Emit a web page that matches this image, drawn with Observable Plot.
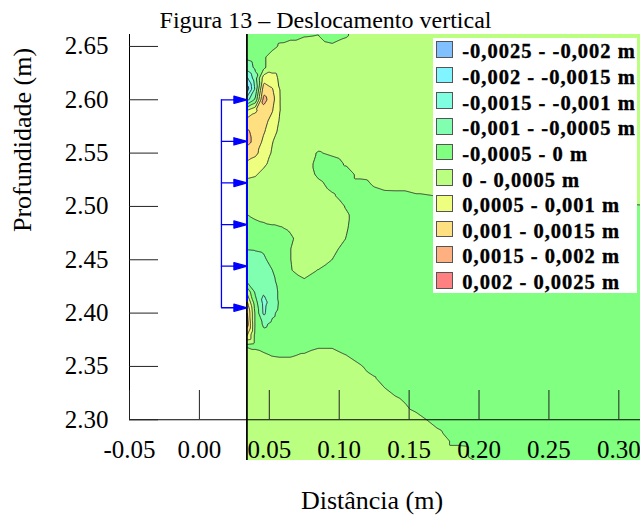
<!DOCTYPE html>
<html>
<head>
<meta charset="utf-8">
<script src="https://cdn.jsdelivr.net/npm/d3@7"></script>
<script src="https://cdn.jsdelivr.net/npm/@observablehq/plot@0.6"></script>
<style>
  html, body { margin: 0; padding: 0; background: #fff; }
  #chart { position: relative; width: 640px; height: 515px; }
  #legend {
    position: absolute; left: 432.7px; top: 37.7px; width: 204.3px; height: 255.3px;
    background: #fff; color: #000;
    font-family: "Liberation Serif", "Times New Roman", serif;
    font-weight: bold; font-size: 20.5px; letter-spacing: 1px;
    -webkit-text-stroke: 0.35px #000;
  }
  #legend .row { position: absolute; left: 3.3px; height: 17px; }
  #legend .sw {
    position: absolute; left: 0; top: 0; width: 16.7px; height: 16.7px;
    box-sizing: border-box; border: 1.3px solid #555;
  }
  #legend .lab { position: absolute; left: 26.3px; top: 0.3px; line-height: 1; white-space: nowrap; }
</style>
</head>
<body>
<div id="chart"></div>
<script>
// Mesh columns (distance, m) and rows (depth, m) of the displacement field
const gridX = [0.034, 0.040, 0.046, 0.052, 0.058, 0.065, 0.075, 0.085, 0.095, 0.105,
               0.115, 0.125, 0.140, 0.155, 0.170, 0.185, 0.200, 0.250, 0.330];
const gridY = [2.68, 2.67, 2.66, 2.65, 2.64, 2.63, 2.62, 2.61, 2.60, 2.59, 2.58,
               2.57, 2.56, 2.55, 2.54, 2.53, 2.52, 2.51, 2.50, 2.49, 2.48, 2.47,
               2.46, 2.45, 2.44, 2.43, 2.42, 2.41, 2.40, 2.39, 2.38, 2.37, 2.36,
               2.35, 2.34, 2.33, 2.32, 2.31, 2.30, 2.29, 2.28, 2.27, 2.26, 2.25, 2.24];

// Vertical displacement at each node, in units of 0.1 mm (one row per depth)
const disp = [
  [-3, -2.5, -2.5, -2.5, -2.5, -2, -1, -1, -3, -1, 2.5, 2.5, 2.5, 2.5, 2.5, 2.5, 2.5, 2.5, 2.5],
  [-3, -2.5, -2.5, -2.5, -2.5, -2, -1, -1, -3, -1, 2.5, 2.5, 2.5, 2.5, 2.5, 2.5, 2.5, 2.5, 2.5],
  [-3, -2.5, -2.5, -2.5, -2, -1.8, -0.3, 0.1, -3, -0.5, 2.5, 2.5, 2.5, 2.5, 2.5, 2.5, 2.5, 2.5, 2.5],
  [-3.5, -3, -2.5, -2, 1, 2.5, 2.5, 2.5, 1.2, 2.5, 2.5, 2.5, 2.5, 2.5, 2.5, 2.5, 2.5, 2.5, 2.5],
  [-4, -3, -1, 3, 2.5, 2.5, 2.5, 2.5, 2.5, 2.5, 2.5, 2.5, 2.5, 2.5, 2.5, 2.5, 2.5, 2.5, 2.5],
  [-8, -4, -1, 3, 3, 2.5, 2.5, 2.5, 2.5, 2.5, 2.5, 2.5, 2.5, 2.5, 2.5, 2.5, 2.5, 2.5, 2.5],
  [-16, -7, 8, 7, 4, 2.5, 2.5, 2.5, 2.5, 2.5, 2.5, 2.5, 2.5, 2.5, 2.5, 2.5, 2.5, 2.5, 2.5],
  [-23, -9, 13, 10.5, 4.5, 2.5, 2.5, 2.5, 2.5, 2.5, 2.5, 2.5, 2.5, 2.5, 2.5, 2.5, 2.5, 2.5, 2.5],
  [-12, -4, 17, 12, 4.7, 2.5, 2.5, 2.5, 2.5, 2.5, 2.5, 2.5, 2.5, 2.5, 2.5, 2.5, 2.5, 2.5, 2.5],
  [5, 9, 13, 10.5, 4.8, 2.5, 2.5, 2.5, 2.5, 2.5, 2.5, 2.5, 2.5, 2.5, 2.5, 2.5, 2.5, 2.5, 2.5],
  [12, 13, 12, 8, 4.3, 2.5, 2.5, 2.5, 2.5, 2.5, 2.5, 2.5, 2.5, 2.5, 2.5, 2.5, 2.5, 2.5, 2.5],
  [15.5, 14, 10.5, 7, 3.5, 2.5, 2.5, 2.5, 2.5, 2.5, 2.5, 2.5, 2.5, 2.5, 2.5, 2.5, 2.5, 2.5, 2.5],
  [16, 14, 8.5, 5.2, 3, 2.5, 2.5, 2.5, 2.5, 2.5, 2.5, 2.5, 2.5, 2.5, 2.5, 2.5, 2.5, 2.5, 2.5],
  [13, 11, 8, 4.5, 2.7, 2.5, 2.5, -0.5, 1, 2.5, 2.5, 2.5, 2.5, 2.5, 2.5, 2.5, 2.5, 2.5, 2.5],
  [9, 8, 6, 3.5, 2.5, 2.5, 2.5, -1.5, -2.5, 0.6, 2.5, 2.5, 2.5, 2.5, 2.5, 2.5, 2.5, 2.5, 2.5],
  [6, 5.5, 3.5, 3, 2.5, 2.5, 2.5, -0.8, -2.5, -2.5, 1.8, 2.5, 2.5, 2.5, 2.5, 2.5, 2.5, 2.5, 2.5],
  [3.5, 3, 3, 3, 2.5, 2.5, 2.5, 1.2, -1.3, -2.5, -2.5, 0.5, 2.5, 2.5, 2.5, 2.5, 2.5, 2.5, 2.5],
  [2.8, 2.5, 2.5, 2.5, 2.5, 2.5, 2.5, 2.5, 0.6, -2, -2.5, -2.5, -2.2, -0.6, 0.1, 0.2, 0.4, 1.4, 2.5],
  [2, 2.5, 2.5, 2.5, 2.5, 2.5, 2.5, 2.5, 2.5, -0.3, -2.5, -2.5, -2.5, -2.5, -2.5, -2.5, -2.5, -2.5, -0.1],
  [-0.5, 0.6, 1.5, 2.6, 2.5, 2.5, 2.5, 2.5, 2.5, 0.7, -2.5, -2.5, -2.5, -2.5, -2.5, -2.5, -2.5, -2.5, -2.5],
  [-3, -2, -1.5, -1, -0.3, 0.8, 2.5, 2.5, 2.5, 0.4, -2.5, -2.5, -2.5, -2.5, -2.5, -2.5, -2.5, -2.5, -2.5],
  [-4, -3.5, -3.5, -3, -2.5, -0.8, 2.5, 2.5, 2.5, -0.1, -2.5, -2.5, -2.5, -2.5, -2.5, -2.5, -2.5, -2.5, -2.5],
  [-4.9, -4.8, -4.6, -3.5, -2.5, -0.1, 2.5, 2.5, 1.5, -2, -2.5, -2.5, -2.5, -2.5, -2.5, -2.5, -2.5, -2.5, -2.5],
  [-6.5, -6, -5.5, -4, -2.5, -0.1, 2.5, 2.5, -0.05, -2.5, -2.5, -2.5, -2.5, -2.5, -2.5, -2.5, -2.5, -2.5, -2.5],
  [-7, -7, -7, -5.1, -3, -0.3, 2, -0.2, -2.5, -2.5, -2.5, -2.5, -2.5, -2.5, -2.5, -2.5, -2.5, -2.5, -2.5],
  [-6, -7.5, -8, -6, -3.5, -2.5, -0.6, -2.5, -2.5, -2.5, -2.5, -2.5, -2.5, -2.5, -2.5, -2.5, -2.5, -2.5, -2.5],
  [4, -6, -9.5, -7, -4, -2.5, -2.5, -2.5, -2.5, -2.5, -2.5, -2.5, -2.5, -2.5, -2.5, -2.5, -2.5, -2.5, -2.5],
  [11, -3, -11.5, -8, -4, -2.5, -2.5, -2.5, -2.5, -2.5, -2.5, -2.5, -2.5, -2.5, -2.5, -2.5, -2.5, -2.5, -2.5],
  [16, -1, -11, -6, -3.5, -2.5, -2.5, -2.5, -2.5, -2.5, -2.5, -2.5, -2.5, -2.5, -2.5, -2.5, -2.5, -2.5, -2.5],
  [18, -1, -6, -4, -3, -2.5, -2.5, -2.5, -2.5, -2.5, -2.5, -2.5, -2.5, -2.5, -2.5, -2.5, -2.5, -2.5, -2.5],
  [11, -1.5, -3.5, -3, -2.5, -2.5, -2.5, -2.5, -2.5, -2.5, -2.5, -2.5, -2.5, -2.5, -2.5, -2.5, -2.5, -2.5, -2.5],
  [-0.7, -1.7, -2.5, -2.5, -2.5, -2.5, -2.5, -1.1, -1.1, -2.5, -2.5, -2.5, -2.5, -2.5, -2.5, -2.5, -2.5, -2.5, -2.5],
  [2.5, 2.5, 1.1, -0.1, -0.4, -0.4, 0.7, 2.5, 2.5, 0.2, -2.5, -2.5, -2.5, -2.5, -2.5, -2.5, -2.5, -2.5, -2.5],
  [2.5, 2.5, 2.5, 2.5, 2.5, 2.5, 2.5, 2.5, 2.5, 2.5, 0.6, -2.5, -2.5, -2.5, -2.5, -2.5, -2.5, -2.5, -2.5],
  [2.5, 2.5, 2.5, 2.5, 2.5, 2.5, 2.5, 2.5, 2.5, 2.5, 2.5, 0.2, -2.5, -2.5, -2.5, -2.5, -2.5, -2.5, -2.5],
  [2.5, 2.5, 2.5, 2.5, 2.5, 2.5, 2.5, 2.5, 2.5, 2.5, 2.5, 2.5, -2.5, -2.5, -2.5, -2.5, -2.5, -2.5, -2.5],
  [2.5, 2.5, 2.5, 2.5, 2.5, 2.5, 2.5, 2.5, 2.5, 2.5, 2.5, 2.5, 0.75, -2.5, -2.5, -2.5, -2.5, -2.5, -2.5],
  [2.5, 2.5, 2.5, 2.5, 2.5, 2.5, 2.5, 2.5, 2.5, 2.5, 2.5, 2.5, 2.5, -1.1, -2.5, -2.5, -2.5, -2.5, -2.5],
  [2.5, 2.5, 2.5, 2.5, 2.5, 2.5, 2.5, 2.5, 2.5, 2.5, 2.5, 2.5, 2.5, 2.5, -2.5, -2.5, -2.5, -2.5, -2.5],
  [2.5, 2.5, 2.5, 2.5, 2.5, 2.5, 2.5, 2.5, 2.5, 2.5, 2.5, 2.5, 2.5, 2.5, 0.67, -2.5, -2.5, -2.5, -2.5],
  [2.5, 2.5, 2.5, 2.5, 2.5, 2.5, 2.5, 2.5, 2.5, 2.5, 2.5, 2.5, 2.5, 2.5, 2.5, -1.7, -2.5, -2.5, -2.5],
  [2.5, 2.5, 2.5, 2.5, 2.5, 2.5, 2.5, 2.5, 2.5, 2.5, 2.5, 2.5, 2.5, 2.5, 2.5, 2.5, -2.5, -2.5, -2.5],
  [2.5, 2.5, 2.5, 2.5, 2.5, 2.5, 2.5, 2.5, 2.5, 2.5, 2.5, 2.5, 2.5, 2.5, 2.5, 2.5, -0.15, -2.5, -2.5],
  [2.5, 2.5, 2.5, 2.5, 2.5, 2.5, 2.5, 2.5, 2.5, 2.5, 2.5, 2.5, 2.5, 2.5, 2.5, 2.5, 2.5, -2.5, -2.5],
  [2.5, 2.5, 2.5, 2.5, 2.5, 2.5, 2.5, 2.5, 2.5, 2.5, 2.5, 2.5, 2.5, 2.5, 2.5, 2.5, 2.5, -2.5, -2.5]
];

// Colour bands (lower bound of each band, in m)
const bandLows = [-0.0025, -0.002, -0.0015, -0.001, -0.0005, 0, 0.0005, 0.001, 0.0015, 0.002];
const bandColors = ["#80C0FF", "#80F4FF", "#80FFE0", "#80FFB0", "#80FF80",
                    "#BBFF80", "#EEFF80", "#FFE080", "#FFB080", "#FF8080"];
const bandLabels = ["-0,0025 - -0,002 m", "-0,002 - -0,0015 m", "-0,0015 - -0,001 m",
                    "-0,001 - -0,0005 m", "-0,0005 - 0 m", "0 - 0,0005 m",
                    "0,0005 - 0,001 m", "0,001 - 0,0015 m", "0,0015 - 0,002 m",
                    "0,002 - 0,0025 m"];

const xTicks = [-0.05, 0.00, 0.05, 0.10, 0.15, 0.20, 0.25, 0.30];
const yTicks = [2.30, 2.35, 2.40, 2.45, 2.50, 2.55, 2.60, 2.65];
const xDomain = [-0.05, 0.3155];
const yDomain = [2.2618, 2.6612];

// Depths of the horizontal load arrows applied on the wall
const loadDepths = [2.600, 2.561, 2.522, 2.483, 2.444, 2.405];

// Flatten the mesh into scattered samples (value in m)
const samples = [];
gridY.forEach((y, i) => gridX.forEach((x, j) => samples.push({x, y, v: disp[i][j] * 1e-4})));

const wallX = gridX[0];
const blue = "#0000FF";
const serif = '"Liberation Serif", "Times New Roman", serif';

// Arrow: straight shaft with a narrow filled head at the tip
const loadArrow = {
  draw(context, l) {
    context.moveTo(0, 0);
    context.lineTo(0, -l + 12);
    context.moveTo(0, -l);
    context.lineTo(3.6, -l + 13);
    context.lineTo(-3.6, -l + 13);
    context.closePath();
  }
};

const chart = Plot.plot({
  width: 640,
  height: 515,
  marginLeft: 129,
  marginRight: 0,
  marginTop: 34,
  marginBottom: 55,
  x: {domain: xDomain},
  y: {domain: yDomain},
  color: {type: "ordinal", domain: bandLows, range: bandColors},
  style: {fontFamily: serif, fontSize: "25px", color: "#000", background: "#fff"},
  marks: [
    Plot.contour(samples, {
      x: "x", y: "y", value: "v",
      interpolate: "barycentric",
      x1: gridX[0], x2: gridX[gridX.length - 1],
      y1: gridY[gridY.length - 1], y2: gridY[0],
      pixelSize: 1,
      thresholds: bandLows,
      fill: "value",
      stroke: "#2a2a2a",
      strokeWidth: 0.9,
      clip: true
    }),
    // wall
    Plot.ruleX([wallX], {stroke: "#000", strokeWidth: 1.5}),
    Plot.ruleX([wallX], {y1: d3.min(loadDepths), y2: d3.max(loadDepths), insetTop: -6, stroke: blue, strokeWidth: 2}),
    // loading
    Plot.ruleX([wallX], {y1: d3.min(loadDepths), y2: d3.max(loadDepths), dx: -25.5, stroke: blue, strokeWidth: 1.3}),
    Plot.vector(loadDepths, {
      x: () => wallX, y: d => d, length: 25.5, rotate: 90, anchor: "end",
      shape: loadArrow, stroke: blue, fill: blue, strokeWidth: 1.3
    }),
    // axes
    Plot.ruleY([yTicks[0]], {stroke: "#000"}),
    Plot.ruleX([xTicks[0]], {y1: yTicks[0], y2: yDomain[1], stroke: "#000"}),
    Plot.axisY(yTicks, {anchor: "left", tickSize: -29, tickPadding: 50, tickFormat: d => d.toFixed(2), label: null, stroke: "#222"}),
    Plot.axisX(xTicks, {anchor: "bottom", dy: -41, tickSize: -29, tickPadding: 50, tickFormat: d => d.toFixed(2), label: null, stroke: "#222"}),
    // titles
    Plot.text(["Figura 13 – Deslocamento vertical"], {text: d => d, frameAnchor: "top", dx: -59.5, dy: -7, lineAnchor: "bottom", fontSize: 24}),
    Plot.text(["Distância (m)"], {text: d => d, frameAnchor: "bottom", dx: -13, dy: 48, lineAnchor: "bottom", fontSize: 26}),
    Plot.text(["Profundidade (m)"], {text: d => d, frameAnchor: "left", dx: -99, dy: -15.5, rotate: -90, lineAnchor: "bottom", fontSize: 26})
  ]
});

const root = document.getElementById("chart");
root.appendChild(chart);

// Legend box drawn over the plot
const legend = d3.select(root).append("div").attr("id", "legend");
bandLabels.forEach((label, i) => {
  const row = legend.append("div").attr("class", "row").style("top", `${3.3 + i * 25.65}px`);
  row.append("div").attr("class", "sw").style("background", bandColors[i]);
  row.append("span").attr("class", "lab").text(label);
});
</script>
</body>
</html>
